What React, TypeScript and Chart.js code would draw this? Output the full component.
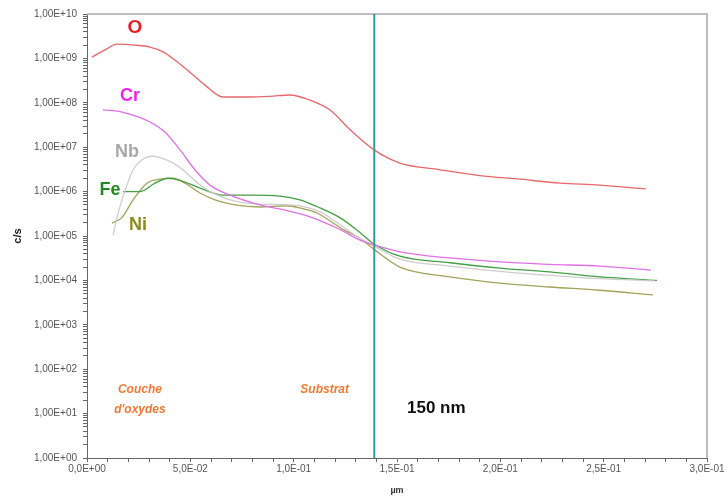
import { useEffect, useRef } from 'react';
import { Chart, registerables } from 'chart.js';

Chart.register(...registerables);

// ---- Data (depth in µm, intensity in c/s) ----
const xO = [0.0024, 0.0087, 0.0145, 0.0232, 0.0305, 0.0368, 0.0426, 0.0498, 0.0571, 0.0658, 0.0789, 0.0885, 0.0982, 0.1079, 0.1176, 0.1272, 0.1389, 0.1514, 0.1708, 0.1901, 0.2095, 0.2288, 0.2482, 0.2704];
const yO = [1.07e9, 1.55e9, 2.1e9, 2.0e9, 1.8e9, 1.4e9, 9.1e8, 4.9e8, 2.5e8, 1.35e8, 1.35e8, 1.4e8, 1.5e8, 1.15e8, 6.9e7, 2.5e7, 8.7e6, 4.4e6, 3.1e6, 2.3e6, 1.9e6, 1.55e6, 1.4e6, 1.15e6];

const xCr = [0.0077, 0.0169, 0.0305, 0.0377, 0.045, 0.0522, 0.0595, 0.0692, 0.0837, 0.0982, 0.1079, 0.1224, 0.1321, 0.1389, 0.1514, 0.1756, 0.1998, 0.224, 0.2482, 0.2729];
const yCr = [6.9e7, 6.2e7, 3.7e7, 2.2e7, 8.7e6, 3.1e6, 1.4e6, 8.3e5, 5.0e5, 3.6e5, 2.7e5, 1.4e5, 8.1e4, 6.3e4, 4.4e4, 3.2e4, 2.6e4, 2.3e4, 2.1e4, 1.7e4];

const xNb = [0.0126, 0.015, 0.0174, 0.0223, 0.0266, 0.0314, 0.0387, 0.045, 0.0561, 0.0692, 0.0837, 0.0982, 0.1127, 0.1248, 0.1321, 0.1389, 0.1514, 0.1756, 0.1998, 0.224, 0.2482, 0.2748];
const yNb = [1.05e5, 3.2e5, 7.6e5, 3.1e6, 5.2e6, 6.3e6, 5.1e6, 3.5e6, 1.26e6, 6.5e5, 5.2e5, 5.0e5, 3.5e5, 1.5e5, 8.9e4, 5.9e4, 3.0e4, 2.1e4, 1.6e4, 1.3e4, 1.1e4, 9.8e3];

const xFe = [0.0174, 0.0256, 0.0329, 0.0392, 0.045, 0.0547, 0.0658, 0.0789, 0.0934, 0.103, 0.1127, 0.1224, 0.1321, 0.1389, 0.1514, 0.1756, 0.1998, 0.224, 0.2482, 0.2758];
const yFe = [1.0e6, 1.0e6, 1.55e6, 2.0e6, 1.8e6, 1.2e6, 8.3e5, 8.3e5, 7.9e5, 6.5e5, 4.3e5, 2.6e5, 1.2e5, 6.6e4, 3.5e4, 2.5e4, 1.9e4, 1.55e4, 1.2e4, 1.0e4];

const xNi = [0.0121, 0.0169, 0.0223, 0.029, 0.0353, 0.0416, 0.0474, 0.0547, 0.0619, 0.0716, 0.0837, 0.0968, 0.103, 0.1113, 0.1239, 0.1321, 0.1389, 0.1514, 0.1756, 0.1998, 0.224, 0.2482, 0.2738];
const yNi = [1.95e5, 2.6e5, 6.5e5, 1.55e6, 1.9e6, 2.0e6, 1.55e6, 9.3e5, 6.5e5, 5.0e5, 4.5e5, 4.8e5, 4.3e5, 3.3e5, 1.4e5, 8.9e4, 5.0e4, 2.0e4, 1.2e4, 8.7e3, 7.1e3, 6.0e3, 4.7e3];

const seriesNames = ['O', 'Cr', 'Nb', 'Fe', 'Ni'];
const yTickLabels = ['1,00E+00', '1,00E+01', '1,00E+02', '1,00E+03', '1,00E+04', '1,00E+05', '1,00E+06', '1,00E+07', '1,00E+08', '1,00E+09', '1,00E+10'];
const xTickLabels = ['0,0E+00', '5,0E-02', '1,0E-01', '1,5E-01', '2,0E-01', '2,5E-01', '3,0E-01'];
const interfaceDepth = 0.139;

const FONT = "'Liberation Sans', Arial, sans-serif";

function pts(xs: number[], ys: number[]) {
  return xs.map((x, i) => ({ x, y: ys[i] }));
}

const annotationPlugin = {
  id: 'annotations',
  afterDatasetsDraw(chart: any) {
    const { ctx, chartArea, scales } = chart;
    const xs = scales.x;
    const ys = scales.y;
    ctx.save();
    // frame top and right
    ctx.strokeStyle = '#bdbdbd';
    ctx.lineWidth = 2;
    ctx.beginPath();
    ctx.moveTo(chartArea.left, chartArea.top);
    ctx.lineTo(chartArea.right, chartArea.top);
    ctx.lineTo(chartArea.right, chartArea.bottom);
    ctx.stroke();
    // interface line
    const xi = xs.getPixelForValue(interfaceDepth);
    ctx.strokeStyle = '#2f9aa3';
    ctx.lineWidth = 2;
    ctx.beginPath();
    ctx.moveTo(xi, chartArea.top);
    ctx.lineTo(xi, chartArea.bottom);
    ctx.stroke();

    const txt = (s: string, x: number, y: number, color: string, font: string) => {
      ctx.fillStyle = color;
      ctx.font = font;
      ctx.textAlign = 'center';
      ctx.textBaseline = 'middle';
      ctx.fillText(s, xs.getPixelForValue(x), ys.getPixelForValue(y));
    };
    const big = `bold 19px ${FONT}`;
    txt(seriesNames[0], 0.0232, 4.8e9, '#ee1c1c', big);
    txt(seriesNames[1], 0.0208, 1.4e8, '#ee22ee', `bold 18px ${FONT}`);
    txt(seriesNames[2], 0.0194, 7.8e6, '#a8a8a8', `bold 18px ${FONT}`);
    txt(seriesNames[3], 0.0111, 1.1e6, '#1e8c1e', `bold 18px ${FONT}`);
    txt(seriesNames[4], 0.0247, 1.8e5, '#8c8c1e', `bold 18px ${FONT}`);
    const orange = '#f07a32';
    const it = `italic bold 12px ${FONT}`;
    txt('Couche', 0.0256, 34, orange, it);
    txt("d'oxydes", 0.0256, 12, orange, it);
    txt('Substrat', 0.115, 34, orange, it);
    txt('150 nm', 0.169, 13.5, '#111', `bold 17px ${FONT}`);
    ctx.restore();
  },
};

export default function App() {
  const ref = useRef<HTMLCanvasElement>(null);
  useEffect(() => {
    if (!ref.current) return;
    const ds = (label: string, data: any[], color: string) => ({
      label,
      data,
      borderColor: color,
      backgroundColor: color,
      borderWidth: 1.3,
      pointRadius: 0,
      tension: 0.4,
      cubicInterpolationMode: 'monotone' as const,
      fill: false,
    });
    const chart = new Chart(ref.current, {
      type: 'line',
      data: {
        datasets: [
          ds(seriesNames[0], pts(xO, yO), '#e8676b'),
          ds(seriesNames[1], pts(xCr, yCr), '#e070e6'),
          ds(seriesNames[2], pts(xNb, yNb), '#cdcdcd'),
          ds(seriesNames[3], pts(xFe, yFe), '#45a045'),
          ds(seriesNames[4], pts(xNi, yNi), '#a3a35a'),
        ],
      },
      options: {
        responsive: false,
        animation: false,
        layout: { padding: { top: 14, right: 18, left: 0, bottom: 0 } },
        plugins: { legend: { display: false }, tooltip: { enabled: false } },
        scales: {
          x: {
            type: 'linear',
            min: 0,
            max: 0.3,
            afterBuildTicks: (scale: any) => {
              const t = [];
              for (let i = 0; i <= 30; i++) t.push({ value: i / 100, major: i % 5 === 0 });
              scale.ticks = t;
            },
            afterFit: (scale: any) => {
              scale.height = 43;
              scale.paddingLeft = 0;
              scale.paddingRight = 0;
            },
            ticks: {
              autoSkip: false,
              maxRotation: 0,
              padding: 1,
              color: '#555',
              font: { family: FONT, size: 10 },
              callback: (v: any) => {
                const k = Math.round(Number(v) / 0.05);
                return Math.abs(Number(v) - k * 0.05) < 1e-9 ? xTickLabels[k] : '';
              },
            },
            grid: { drawOnChartArea: false, drawTicks: true, tickLength: 4, color: '#666' },
            border: { display: true, color: '#666', width: 1 },
            title: {
              display: true,
              text: 'µm',
              color: '#333',
              font: { family: FONT, size: 9, weight: 'bold' },
              padding: { top: 0, bottom: 5 },
            },
          },
          y: {
            type: 'logarithmic',
            min: 1,
            max: 1e10,
            afterBuildTicks: (scale: any) => {
              const t = [];
              for (let e = 0; e <= 10; e++) {
                for (let m = 1; m <= (e === 10 ? 1 : 9); m++) t.push({ value: m * Math.pow(10, e), major: m === 1 });
              }
              scale.ticks = t;
            },
            afterFit: (scale: any) => {
              scale.width = 87;
              scale.paddingTop = 0;
              scale.paddingBottom = 0;
            },
            ticks: {
              autoSkip: false,
              padding: 6,
              color: '#555',
              font: { family: FONT, size: 10 },
              callback: (v: any) => {
                const lg = Math.log10(Number(v));
                const r = Math.round(lg);
                return Math.abs(lg - r) < 1e-6 ? yTickLabels[r] : '';
              },
            },
            grid: { drawOnChartArea: false, drawTicks: true, tickLength: 4, color: '#666' },
            border: { display: true, color: '#666', width: 1 },
            title: {
              display: true,
              text: 'c/s',
              color: '#222',
              font: { family: FONT, size: 11, weight: 'bold' },
              padding: { top: 11, bottom: 0 },
            },
          },
        },
      },
      plugins: [annotationPlugin],
    });
    return () => chart.destroy();
  }, []);
  return (
    <div style={{ position: 'fixed', left: 0, top: 0, width: 725, height: 501, background: '#fff' }}>
      <canvas ref={ref} width={725} height={501} style={{ display: 'block' }} />
    </div>
  );
}
